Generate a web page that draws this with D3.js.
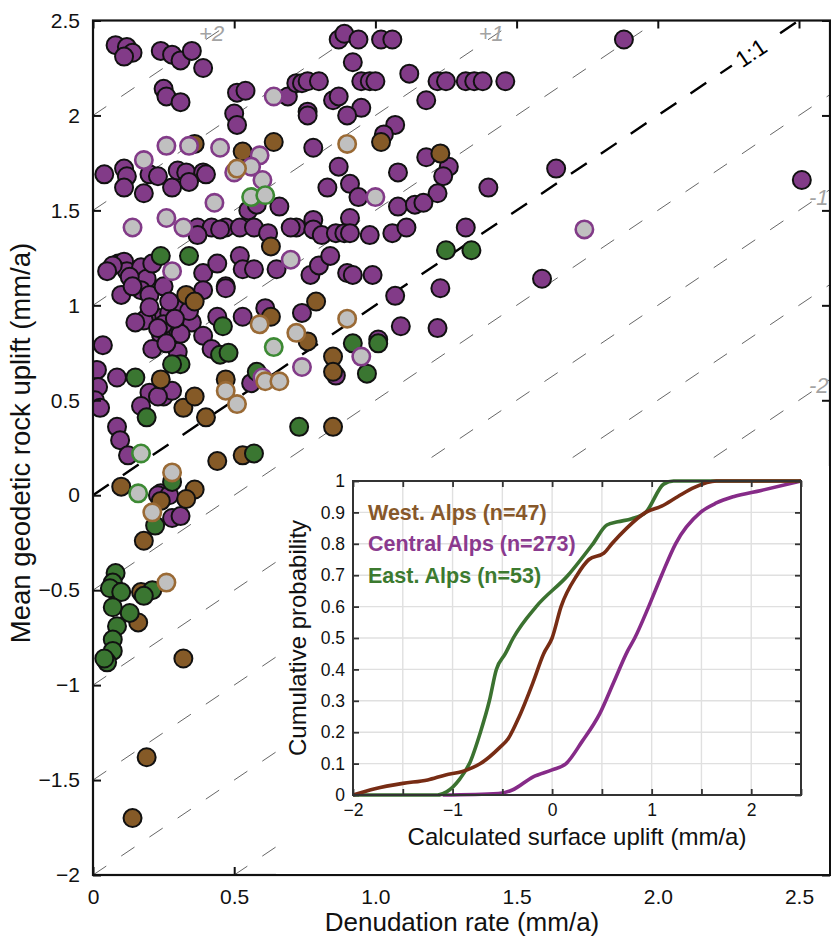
<!DOCTYPE html>
<html>
<head>
<meta charset="utf-8">
<script src="https://cdn.jsdelivr.net/npm/d3@7"></script>
<style>
  body { margin: 0; background: #fff; }
  svg { display: block; font-family: 'Liberation Sans', Arial, Helvetica, sans-serif; }
</style>
</head>
<body>
<div id="chart"></div>
<script>
;(function() {
  'use strict';

  // Scatter: [denudation rate, mean geodetic rock uplift], mm/a
  var centralPts = [
    [0.08,2.37],[0.12,2.36],[0.14,2.33],[0.11,2.31],[0.24,2.34],[0.28,2.32],[0.31,2.29],[0.35,2.34],[0.39,2.25],
    [0.25,2.14],[0.26,2.10],[0.31,2.07],[0.51,2.12],[0.54,2.13],[0.50,2.01],[0.51,1.95],[0.69,2.10],[0.72,2.17],
    [0.87,2.40],[0.89,2.43],[0.94,2.40],[1.02,2.40],[1.06,2.40],[0.92,2.28],
    [0.74,2.17],[0.76,2.18],[0.80,2.18],[0.95,2.18],[0.98,2.18],[1.00,2.18],[1.12,2.22],[1.22,2.18],[1.25,2.18],
    [1.32,2.18],[1.35,2.18],[1.38,2.18],[1.46,2.18],
    [1.18,2.08],[0.85,2.08],[0.87,2.10],[0.95,2.04],[0.90,2.00],[0.76,2.02],[0.76,2.00],
    [1.07,1.95],[1.03,1.90],[0.78,1.83],
    [1.18,1.78],[1.26,1.73],[1.24,1.68],[1.22,1.59],[1.08,1.70],[0.87,1.73],[0.83,1.62],[0.91,1.64],[0.94,1.57],
    [1.08,1.52],[1.14,1.53],[1.17,1.54],[1.40,1.62],[1.64,1.72],[1.32,1.41],
    [0.78,1.45],[0.91,1.46],[0.72,1.41],[0.78,1.40],[0.81,1.37],[0.86,1.38],[0.89,1.38],[0.91,1.38],[0.98,1.37],
    [1.06,1.38],[1.11,1.41],
    [0.77,1.16],[0.90,1.17],[0.92,1.16],[0.99,1.16],[1.23,1.09],[1.59,1.14],[1.88,2.40],[2.51,1.66],
    [1.07,1.05],[1.09,0.89],[1.01,0.82],[1.22,0.88],[0.80,1.21],[0.84,1.26],
    [0.04,1.69],[0.11,1.72],[0.12,1.68],[0.11,1.62],[0.18,1.59],[0.20,1.69],[0.23,1.68],[0.28,1.62],[0.30,1.71],
    [0.33,1.70],[0.39,1.70],[0.40,1.69],[0.34,1.65],[0.66,1.52],[0.55,1.50],[0.58,1.53],
    [0.37,1.41],[0.42,1.41],[0.47,1.41],[0.52,1.41],[0.57,1.41],[0.37,1.37],[0.45,1.40],[0.70,1.41],[0.62,1.38],
    [0.09,1.22],[0.11,1.23],[0.12,1.18],[0.17,1.20],[0.39,1.17],[0.44,1.22],[0.52,1.26],[0.53,1.19],[0.57,1.19],
    [0.47,1.10],[0.65,1.19],[0.19,1.14],[0.17,1.08],[0.13,1.15],[0.21,1.22],[0.07,1.21],[0.05,1.18],
    [0.10,1.055],[0.20,1.055],[0.39,1.08],[0.47,1.09],[0.14,1.10],[0.25,1.10],
    [0.22,0.94],[0.27,0.96],[0.28,0.88],[0.32,0.91],[0.35,0.91],[0.31,0.85],[0.24,0.85],[0.19,0.93],[0.18,0.92],
    [0.25,0.90],[0.30,0.98],[0.20,0.99],[0.15,0.91],[0.27,1.02],[0.34,0.97],[0.23,0.88],[0.29,0.93],
    [0.39,0.84],[0.44,0.94],[0.53,0.94],[0.61,0.985],[0.74,0.96],
    [0.42,0.77],[0.21,0.77],[0.035,0.79],[0.30,0.755],[0.26,0.80],[0.86,0.63],
    [0.014,0.66],[0.018,0.57],[0.007,0.50],[0.025,0.46],[0.085,0.62],[0.20,0.54],[0.17,0.47],[0.25,0.52],
    [0.28,0.55],[0.23,0.52],[0.56,0.59],[0.085,0.36],[0.096,0.29],[0.124,0.21],
    [0.24,0.01],[0.23,0.00],[0.28,-0.12],[0.31,-0.11],[0.27,0.00]
  ];
  var westPts = [
    [0.36,1.85],[0.53,1.81],[0.64,1.86],[0.63,1.31],[1.02,1.86],[1.23,1.80],
    [0.33,1.055],[0.36,1.02],[0.63,0.94],[0.79,1.02],[0.76,0.81],[0.85,0.73],[0.85,0.65],
    [0.24,0.61],[0.32,0.46],[0.36,0.52],[0.47,0.61],[0.40,0.41],[0.85,0.36],[0.44,0.18],[0.53,0.21],
    [0.10,0.045],[0.36,0.03],[0.33,-0.02],[0.24,-0.03],[0.18,-0.24],[0.17,-0.51],[0.16,-0.67],[0.32,-0.86],
    [0.19,-1.38],[0.14,-1.70]
  ];
  var eastPts = [
    [0.24,1.26],[0.34,1.26],[1.25,1.29],[1.34,1.29],
    [0.46,0.89],[0.45,0.74],[0.48,0.75],[0.31,0.69],[0.28,0.69],[0.92,0.80],[0.97,0.64],[1.01,0.80],
    [0.15,0.62],[0.19,0.41],[0.57,0.22],[0.73,0.36],[0.58,0.65],
    [0.28,0.07],[0.22,-0.16],[0.21,-0.50],[0.18,-0.53],[0.13,-0.62],
    [0.08,-0.41],[0.07,-0.46],[0.09,-0.51],[0.06,-0.49],[0.10,-0.51],[0.07,-0.59],[0.085,-0.69],[0.07,-0.76],
    [0.07,-0.82],[0.05,-0.88],[0.04,-0.86]
  ];
  // grey-filled samples, outlined in their region colour
  var centralOpen = [
    [0.18,1.765],[0.26,1.84],[0.34,1.84],[0.45,1.83],[0.59,1.79],[0.50,1.70],[0.56,1.73],[0.60,1.66],[0.64,2.10],
    [0.43,1.54],[1.00,1.57],[0.14,1.41],[0.26,1.46],[0.32,1.41],[0.70,1.24],[0.28,1.18],[1.74,1.40],[0.95,0.73],
    [0.60,0.62],[0.74,0.675]
  ];
  var westOpen = [
    [0.51,1.72],[0.90,1.85],[0.59,0.90],[0.90,0.93],[0.72,0.855],[0.47,0.55],[0.51,0.48],[0.61,0.60],[0.66,0.60],
    [0.28,0.12],[0.21,-0.09],[0.26,-0.46]
  ];
  var eastOpen = [[0.56,1.57],[0.61,1.58],[0.64,0.78],[0.17,0.22],[0.16,0.01]];

  var diagOffsets = [2.5, 2, 1.5, 1, 0.5, -0.5, -1, -1.5, -2, -2.5, -3, -3.5, -4, -4.5];
  var xTicks = [0, 0.5, 1, 1.5, 2, 2.5],
      xTickLabels = ['0', '0.5', '1.0', '1.5', '2.0', '2.5'],
      yTicks = [-2, -1.5, -1, -0.5, 0, 0.5, 1, 1.5, 2, 2.5];

  // Inset: cumulative probability of calculated surface uplift
  var westCdf = [[-2,0],[-1.78,0.02],[-1.5,0.037],[-1.25,0.048],[-1.07,0.064],[-0.9,0.075],[-0.72,0.1],
    [-0.53,0.15],[-0.44,0.18],[-0.33,0.25],[-0.19,0.36],[-0.085,0.45],[0,0.5],[0.09,0.6],[0.25,0.7],
    [0.37,0.75],[0.52,0.77],[0.6,0.8],[0.75,0.85],[0.94,0.9],[1.1,0.92],[1.26,0.95],[1.43,0.98],[1.65,1],[2.5,1]];
  var centralCdf = [[-1.1,0],[-0.54,0.005],[-0.4,0.016],[-0.19,0.058],[0,0.08],[0.14,0.1],[0.3,0.17],
    [0.48,0.26],[0.62,0.36],[0.76,0.46],[0.83,0.5],[0.97,0.6],[1.1,0.7],[1.24,0.8],[1.49,0.9],[1.65,0.93],
    [1.82,0.95],[2.1,0.97],[2.5,1]];
  var eastCdf = [[-2,0],[-1.15,0],[-1.06,0.01],[-0.93,0.05],[-0.83,0.1],[-0.72,0.2],[-0.63,0.3],[-0.56,0.4],
    [-0.47,0.45],[-0.39,0.5],[-0.16,0.6],[0.16,0.7],[0.41,0.8],[0.55,0.86],[0.66,0.87],[0.8,0.88],[0.94,0.9],
    [1.12,0.99],[1.22,1],[2.5,1]];
  var legendLabels = ['West. Alps (n=47)', 'Central Alps (n=273)', 'East. Alps (n=53)'];
  var insetXTicks = [-2, -1.5, -1, -0.5, 0, 0.5, 1, 1.5, 2, 2.5],
      insetYTicks = d3.range(0, 11).map(function(d) { return d / 10; });

  var colors = {
    central: '#823b88', west: '#855a27', east: '#3a7631',
    centralLine: '#862b88', westLine: '#772c14', eastLine: '#3b7230',
    centralText: '#8a3a8e', westText: '#87582a', eastText: '#3c7a2f'
  };

  var width = 831, height = 938;
  var x = d3.scaleLinear().domain([0, 2.5]).range([93, 799]),
      y = d3.scaleLinear().domain([-2, 2.5]).range([875, 20.5]);
  var xMax = x.invert(830);

  var svg = d3.select('#chart').append('svg')
    .attr('width', width)
    .attr('height', height);

  svg.append('clipPath').attr('id', 'plot-clip')
    .append('rect')
    .attr('x', x(0)).attr('y', y(2.5))
    .attr('width', 830 - x(0)).attr('height', y(-2) - y(2.5));

  var diagG = svg.append('g').attr('clip-path', 'url(#plot-clip)');
  diagG.selectAll('line.diag').data(diagOffsets).enter()
    .append('line')
    .classed('diag', true)
    .attr('x1', x(0)).attr('y1', function(d) { return y(d); })
    .attr('x2', x(xMax)).attr('y2', function(d) { return y(xMax + d); })
    .attr('stroke', '#555')
    .attr('stroke-width', 0.9)
    .attr('stroke-dasharray', '16,18');

  diagG.append('line')
    .attr('x1', x(0)).attr('y1', y(0))
    .attr('x2', x(xMax)).attr('y2', y(xMax))
    .attr('stroke', '#000')
    .attr('stroke-width', 2.4)
    .attr('stroke-dasharray', '19,17');

  // 1:1 label sits on the line with a white gap
  var angle = Math.atan2(y(1) - y(0), x(1) - x(0)) * 180 / Math.PI;
  var oneG = svg.append('g')
    .attr('transform', 'translate(' + x(2.33) + ',' + y(2.33) + ') rotate(' + angle + ')');
  oneG.append('rect').attr('x', -23).attr('y', -12).attr('width', 46).attr('height', 24).attr('fill', '#fff');
  oneG.append('text')
    .attr('text-anchor', 'middle').attr('dy', '0.35em')
    .attr('font-size', 23).attr('fill', '#000')
    .text('1:1');

  var offsetLabels = [['+2', 0.42, 2.43], ['+1', 1.41, 2.43], ['-1', 2.57, 1.57], ['-2', 2.57, 0.58]];
  svg.selectAll('text.offset').data(offsetLabels).enter()
    .append('text')
    .classed('offset', true)
    .attr('x', function(d) { return x(d[1]); })
    .attr('y', function(d) { return y(d[2]); })
    .attr('dy', '0.35em')
    .attr('text-anchor', 'middle')
    .attr('font-size', 22)
    .attr('font-style', 'italic')
    .attr('fill', '#a3a3a3')
    .text(function(d) { return d[0]; });

  // Points
  var ptsG = svg.append('g').attr('clip-path', 'url(#plot-clip)');
  function drawPts(data, fill, stroke, sw, r) {
    ptsG.append('g').selectAll('circle').data(data).enter()
      .append('circle')
      .attr('cx', function(d) { return x(d[0]); })
      .attr('cy', function(d) { return y(d[1]); })
      .attr('r', r)
      .attr('fill', fill)
      .attr('stroke', stroke)
      .attr('stroke-width', sw);
  }
  drawPts(centralPts, colors.central, '#111', 2, 9);
  drawPts(westPts, colors.west, '#111', 2, 9);
  drawPts(eastPts, colors.east, '#111', 2, 9);
  drawPts(centralOpen, '#c0c0c0', colors.central, 2.6, 8.7);
  drawPts(westOpen, '#c0c0c0', '#9a6a35', 2.6, 8.7);
  drawPts(eastOpen, '#c0c0c0', '#3d8a34', 2.6, 8.7);

  function styleAxis(g, size, color, width) {
    g.attr('font-size', size).attr('font-family', null);
    g.select('.domain').remove();
    g.selectAll('.tick line').attr('stroke', color).attr('stroke-width', width);
    g.selectAll('.tick text').attr('fill', '#111');
  }

  // Main axes (ticks point inwards, box on all sides)
  svg.append('g')
    .attr('transform', 'translate(0,' + y(-2) + ')')
    .call(d3.axisBottom(x).tickValues(xTicks).tickSizeInner(-8).tickSizeOuter(0).tickPadding(14)
      .tickFormat(function(d, i) { return xTickLabels[i]; }))
    .call(styleAxis, 21, '#111', 2);
  svg.append('g')
    .attr('transform', 'translate(0,' + y(2.5) + ')')
    .call(d3.axisTop(x).tickValues(xTicks).tickSizeInner(-8).tickSizeOuter(0).tickFormat(''))
    .call(styleAxis, 21, '#111', 2);
  svg.append('g')
    .attr('transform', 'translate(' + x(0) + ',0)')
    .call(d3.axisLeft(y).tickValues(yTicks).tickSizeInner(-8).tickSizeOuter(0).tickPadding(13)
      .tickFormat(d3.format('')))
    .call(styleAxis, 21, '#111', 2);
  svg.append('g')
    .attr('transform', 'translate(830,0)')
    .call(d3.axisRight(y).tickValues(yTicks).tickSizeInner(-8).tickSizeOuter(0).tickFormat(''))
    .call(styleAxis, 21, '#111', 2);
  svg.append('rect')
    .attr('x', x(0)).attr('y', y(2.5))
    .attr('width', 830 - x(0)).attr('height', y(-2) - y(2.5))
    .attr('fill', 'none').attr('stroke', '#111').attr('stroke-width', 2.2);

  svg.append('text')
    .attr('transform', 'translate(20,443) rotate(-90)')
    .attr('text-anchor', 'middle').attr('dy', '0.35em')
    .attr('font-size', 27.5).attr('fill', '#111')
    .text('Mean geodetic rock uplift (mm/a)');
  svg.append('text')
    .attr('x', 462).attr('y', 931)
    .attr('text-anchor', 'middle')
    .attr('font-size', 26).attr('fill', '#111')
    .text('Denudation rate (mm/a)');

  // Inset
  svg.append('rect')
    .attr('x', 276).attr('y', 466).attr('width', 553).attr('height', 408)
    .attr('fill', '#fff');
  var ix = d3.scaleLinear().domain([-2, 2.5]).range([353, 801]),
      iy = d3.scaleLinear().domain([0, 1]).range([795, 481]);
  var inset = svg.append('g');
  inset.append('g').selectAll('line').data(insetXTicks.slice(1, -1)).enter()
    .append('line')
    .attr('x1', ix).attr('x2', ix).attr('y1', iy(0)).attr('y2', iy(1))
    .attr('stroke', '#e0e0e0').attr('stroke-width', 1.4);
  inset.append('g').selectAll('line').data(insetYTicks.slice(1, -1)).enter()
    .append('line')
    .attr('y1', iy).attr('y2', iy).attr('x1', ix(-2)).attr('x2', ix(2.5))
    .attr('stroke', '#e0e0e0').attr('stroke-width', 1.4);

  var line = d3.line()
    .x(function(d) { return ix(d[0]); })
    .y(function(d) { return iy(d[1]); })
    .curve(d3.curveMonotoneX);
  [[centralCdf, colors.centralLine], [eastCdf, colors.eastLine], [westCdf, colors.westLine]].forEach(function(s) {
    inset.append('path')
      .datum(s[0])
      .attr('d', line)
      .attr('fill', 'none')
      .attr('stroke', s[1])
      .attr('stroke-width', 3.6)
      .attr('stroke-linejoin', 'round');
  });

  inset.append('g')
    .attr('transform', 'translate(0,' + iy(0) + ')')
    .call(d3.axisBottom(ix).tickValues(insetXTicks).tickSizeInner(-6).tickSizeOuter(0).tickPadding(9)
      .tickFormat(function(d) { return d % 1 === 0 && d < 2.5 ? d3.format('')(d) : ''; }))
    .call(styleAxis, 17.5, '#333', 1.8);
  inset.append('g')
    .attr('transform', 'translate(0,' + iy(1) + ')')
    .call(d3.axisTop(ix).tickValues(insetXTicks).tickSizeInner(-6).tickSizeOuter(0).tickFormat(''))
    .call(styleAxis, 17.5, '#333', 1.8);
  inset.append('g')
    .attr('transform', 'translate(' + ix(-2) + ',0)')
    .call(d3.axisLeft(iy).tickValues(insetYTicks).tickSizeInner(-6).tickSizeOuter(0).tickPadding(8)
      .tickFormat(d3.format('')))
    .call(styleAxis, 17.5, '#333', 1.8);
  inset.append('g')
    .attr('transform', 'translate(' + ix(2.5) + ',0)')
    .call(d3.axisRight(iy).tickValues(insetYTicks).tickSizeInner(-6).tickSizeOuter(0).tickFormat(''))
    .call(styleAxis, 17.5, '#333', 1.8);
  inset.append('rect')
    .attr('x', ix(-2)).attr('y', iy(1))
    .attr('width', ix(2.5) - ix(-2)).attr('height', iy(0) - iy(1))
    .attr('fill', 'none').attr('stroke', '#333').attr('stroke-width', 2);

  inset.append('text')
    .attr('transform', 'translate(298,' + iy(0.5) + ') rotate(-90)')
    .attr('text-anchor', 'middle').attr('dy', '0.35em')
    .attr('font-size', 24).attr('fill', '#111')
    .text('Cumulative probability');
  inset.append('text')
    .attr('x', ix(0.25)).attr('y', 845)
    .attr('text-anchor', 'middle')
    .attr('font-size', 24).attr('fill', '#111')
    .text('Calculated surface uplift (mm/a)');

  var legendColors = [colors.westText, colors.centralText, colors.eastText];
  inset.selectAll('text.legend').data(legendLabels).enter()
    .append('text')
    .classed('legend', true)
    .attr('x', 368)
    .attr('y', function(d, i) { return iy(0.9 - i * 0.1); })
    .attr('dy', '0.35em')
    .attr('font-size', 21.5)
    .attr('font-weight', 'bold')
    .attr('fill', function(d, i) { return legendColors[i]; })
    .text(function(d) { return d; });
})();
</script>
</body>
</html>
